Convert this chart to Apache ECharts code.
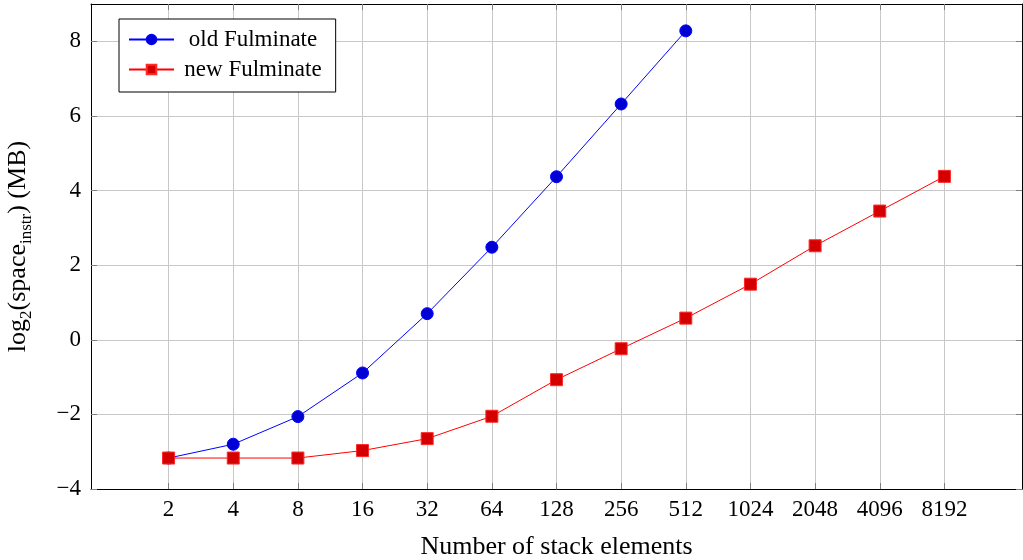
<!DOCTYPE html>
<html><head><meta charset="utf-8">
<script src="https://cdn.jsdelivr.net/npm/echarts@6/dist/echarts.min.js"></script>
<style>html,body{margin:0;padding:0;background:#fff}#c{width:1023px;height:560px}</style>
</head><body><div id="c"></div>
<script>
const sizes = [2, 4, 8, 16, 32, 64, 128, 256, 512, 1024, 2048, 4096, 8192];
const oldFulminate = [-3.17, -2.8, -2.06, -0.89, 0.70, 2.48, 4.37, 6.32, 8.28];
const newFulminate = [-3.17, -3.17, -3.17, -2.97, -2.65, -2.05, -1.07, -0.24, 0.58, 1.49, 2.52, 3.45, 4.38];
const yTicks = [-4, -2, 0, 2, 4, 6, 8];

const pos = sizes.map(s => Math.log2(s));
const FONT = 'Liberation Serif';
const toData = arr => arr.map((v, i) => [pos[i], v]);

const chart = echarts.init(document.getElementById('c'), null, {renderer: 'canvas'});
const tickStyle = {show: true, inside: true, length: 6, lineStyle: {color: '#7f7f7f', width: 1}};
const gridLine = {show: true, lineStyle: {color: '#c8c8c8', width: 1}};
chart.setOption({
  animation: false,
  grid: {left: 91, right: 1, top: 4, bottom: 71, containLabel: false, outerBoundsMode: 'none'},
  legend: {
    left: 119, top: 19, orient: 'vertical',
    backgroundColor: '#fff', borderColor: '#000', borderWidth: 1,
    padding: [9, 14, 11, 9], itemGap: 7, itemWidth: 45, itemHeight: 12,
    formatter: n => '{t|' + n + '}',
    textStyle: {fontFamily: FONT, fontSize: 23, color: '#000', rich: {t: {fontFamily: FONT, fontSize: 23, width: 148, align: 'center'}}},
    data: ['old Fulminate', 'new Fulminate']
  },
  xAxis: [{
    type: 'value', min: -0.2, max: 14.2,
    axisLine: {show: true, onZero: false, lineStyle: {color: '#000', width: 1}},
    axisTick: Object.assign({customValues: pos}, tickStyle),
    axisLabel: {customValues: pos, fontFamily: FONT, fontSize: 23, color: '#000', margin: 9,
      formatter: v => String(sizes[Math.round(v) - 1])},
    splitLine: Object.assign({customValues: pos}, gridLine),
    name: 'Number of stack elements', nameLocation: 'middle', nameGap: 45,
    nameTextStyle: {fontFamily: FONT, fontSize: 26, color: '#000'}
  }, {
    type: 'value', min: -0.2, max: 14.2, position: 'top',
    axisLine: {show: true, onZero: false, lineStyle: {color: '#000', width: 1}},
    axisTick: Object.assign({customValues: pos}, tickStyle),
    axisLabel: {show: false}, splitLine: {show: false}
  }],
  yAxis: [{
    type: 'value', min: -4, max: 9, interval: 2,
    axisLine: {show: true, onZero: false, lineStyle: {color: '#000', width: 1}},
    axisTick: Object.assign({customValues: yTicks}, tickStyle),
    axisLabel: {customValues: yTicks, fontFamily: FONT, fontSize: 23, color: '#000', margin: 10,
      formatter: v => v < 0 ? '\u2212' + Math.abs(v) : String(v)},
    splitLine: Object.assign({customValues: yTicks}, gridLine),
    name: '{n|log}{s|2}{n|(space}{s|instr}{n|) (MB)}', nameLocation: 'middle', nameGap: 56, nameRotate: 90,
    nameTextStyle: {fontFamily: FONT, fontSize: 26, color: '#000',
      rich: {n: {fontFamily: FONT, fontSize: 26, color: '#000', lineHeight: 34, verticalAlign: 'middle'},
             s: {fontFamily: FONT, fontSize: 17, color: '#000', lineHeight: 30, verticalAlign: 'bottom'}}}
  }, {
    type: 'value', min: -4, max: 9, interval: 2, position: 'right',
    axisLine: {show: true, onZero: false, lineStyle: {color: '#000', width: 1}},
    axisTick: Object.assign({customValues: yTicks}, tickStyle),
    axisLabel: {show: false}, splitLine: {show: false}
  }],
  series: [{
    name: 'old Fulminate', type: 'line', data: toData(oldFulminate),
    symbol: 'circle', symbolSize: 12,
    lineStyle: {color: '#0000ff', width: 1},
    itemStyle: {color: '#0000d4', borderColor: '#0000ff', borderWidth: 1}
  }, {
    name: 'new Fulminate', type: 'line', data: toData(newFulminate),
    symbol: 'rect', symbolSize: 12,
    lineStyle: {color: '#ff0000', width: 1},
    itemStyle: {color: '#d40000', borderColor: '#ff2a2a', borderWidth: 1}
  }]
});
</script></body></html>
